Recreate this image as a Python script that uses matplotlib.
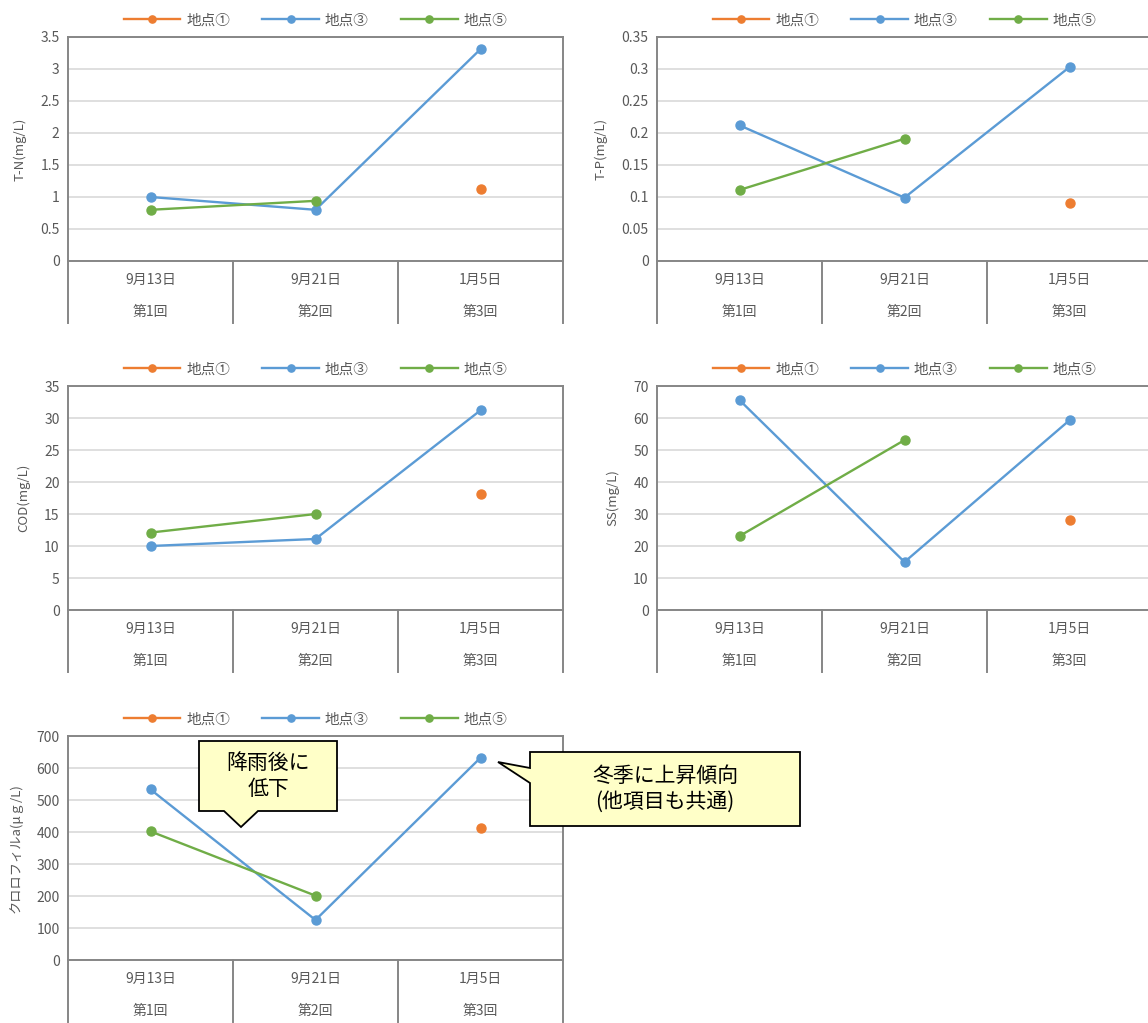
import numpy as np
import matplotlib
matplotlib.use("Agg")
import matplotlib.pyplot as plt
from matplotlib.patches import Polygon

plt.rcParams['font.family'] = ['Noto Sans CJK JP', 'DejaVu Sans']

dates = ['9月13日', '9月21日', '1月5日']
rounds = ['第1回', '第2回', '第3回']
series_names = ['地点①', '地点③', '地点⑤']
colors = ['#ED7D31', '#5B9BD5', '#70AD47']

# 各項目の値 (地点①, 地点③, 地点⑤)
tn = [[np.nan, np.nan, 1.13], [1.0, 0.80, 3.31], [0.80, 0.94, np.nan]]
tp = [[np.nan, np.nan, 0.091], [0.212, 0.099, 0.303], [0.111, 0.191, np.nan]]
cod = [[np.nan, np.nan, 18.1], [10.0, 11.1, 31.2], [12.1, 15.0, np.nan]]
ss = [[np.nan, np.nan, 28.1], [65.6, 15.0, 59.3], [23.1, 53.1, np.nan]]
chl = [[np.nan, np.nan, 413], [533, 125, 632], [402, 201, np.nan]]

panels = [
    (tn, 'T-N(mg/L)', 3.5, 0.5),
    (tp, 'T-P(mg/L)', 0.35, 0.05),
    (cod, 'COD(mg/L)', 35, 5),
    (ss, 'SS(mg/L)', 70, 10),
    (chl, 'クロロフィルa(μｇ/L)', 700, 100),
]

W, H = 1148, 1023
fig = plt.figure(figsize=(W / 100, H / 100), dpi=100)

txt = '#595959'
spine = '#868686'
lefts = [68, 657]
tops = [37, 386, 736]
aw, ah = 495, 224

for i, (data, ylab, ymax, step) in enumerate(panels):
    row, col = divmod(i, 2)
    x0 = lefts[col]
    y0 = tops[row]
    ax = fig.add_axes([x0 / W, 1 - (y0 + ah) / H, aw / W, ah / H])
    x = np.arange(3)
    for vals, name, c in zip(data, series_names, colors):
        ax.plot(x, vals, color=c, lw=1.7, marker='o', ms=6.5, label=name)
    ax.set_xlim(-0.5, 2.5)
    ax.set_ylim(0, ymax)
    ticks = np.arange(0, ymax + step / 2, step)
    ax.set_yticks(ticks)
    ax.set_yticklabels(['{:g}'.format(round(t, 3)) for t in ticks], fontsize=10, color=txt)
    ax.tick_params(axis='y', length=0, pad=6)
    ax.set_xticks([])
    ax.yaxis.grid(True, color='#D9D9D9', lw=1.2)
    ax.set_axisbelow(True)
    for s in ax.spines.values():
        s.set_color(spine)
        s.set_linewidth(1.4)
    ax.set_ylabel(ylab, fontsize=9.5, color=txt, labelpad=10)
    # 分類軸 (日付/回)
    for k in range(4):
        ax.plot([k / 3, k / 3], [0, -62 / ah], transform=ax.transAxes,
                color=spine, lw=1.4, clip_on=False)
    for k in range(3):
        ax.text((k + 0.5) / 3, -19 / ah, dates[k], transform=ax.transAxes,
                ha='center', va='center', fontsize=10, color=txt)
        ax.text((k + 0.5) / 3, -51 / ah, rounds[k], transform=ax.transAxes,
                ha='center', va='center', fontsize=10, color=txt)
    ax.legend(loc='lower center', bbox_to_anchor=(0.5, 1.0), ncol=3, frameon=False,
              fontsize=10.5, labelcolor=txt, handlelength=3.9, columnspacing=2.2,
              borderaxespad=0.25, handletextpad=0.4, markerscale=0.8)


def callout(points, text, tx, ty, size):
    pts = [(px / W, 1 - py / H) for px, py in points]
    fig.patches.append(Polygon(pts, closed=True, transform=fig.transFigure,
                               facecolor='#FFFFC8', edgecolor='black', lw=1.3,
                               zorder=10))
    fig.text(tx / W, 1 - ty / H, text, ha='center', va='center', fontsize=size,
             color='black', linespacing=1.25, zorder=11)


callout([(199, 741), (337, 741), (337, 811), (258, 811), (241, 827), (224, 811),
         (199, 811)], '降雨後に\n低下', 268, 776, 15)
callout([(530, 752), (800, 752), (800, 826), (530, 826), (530, 783), (498, 762),
         (530, 768)], '冬季に上昇傾向\n(他項目も共通)', 665, 789, 15)

fig.savefig('out.png', dpi=100)
